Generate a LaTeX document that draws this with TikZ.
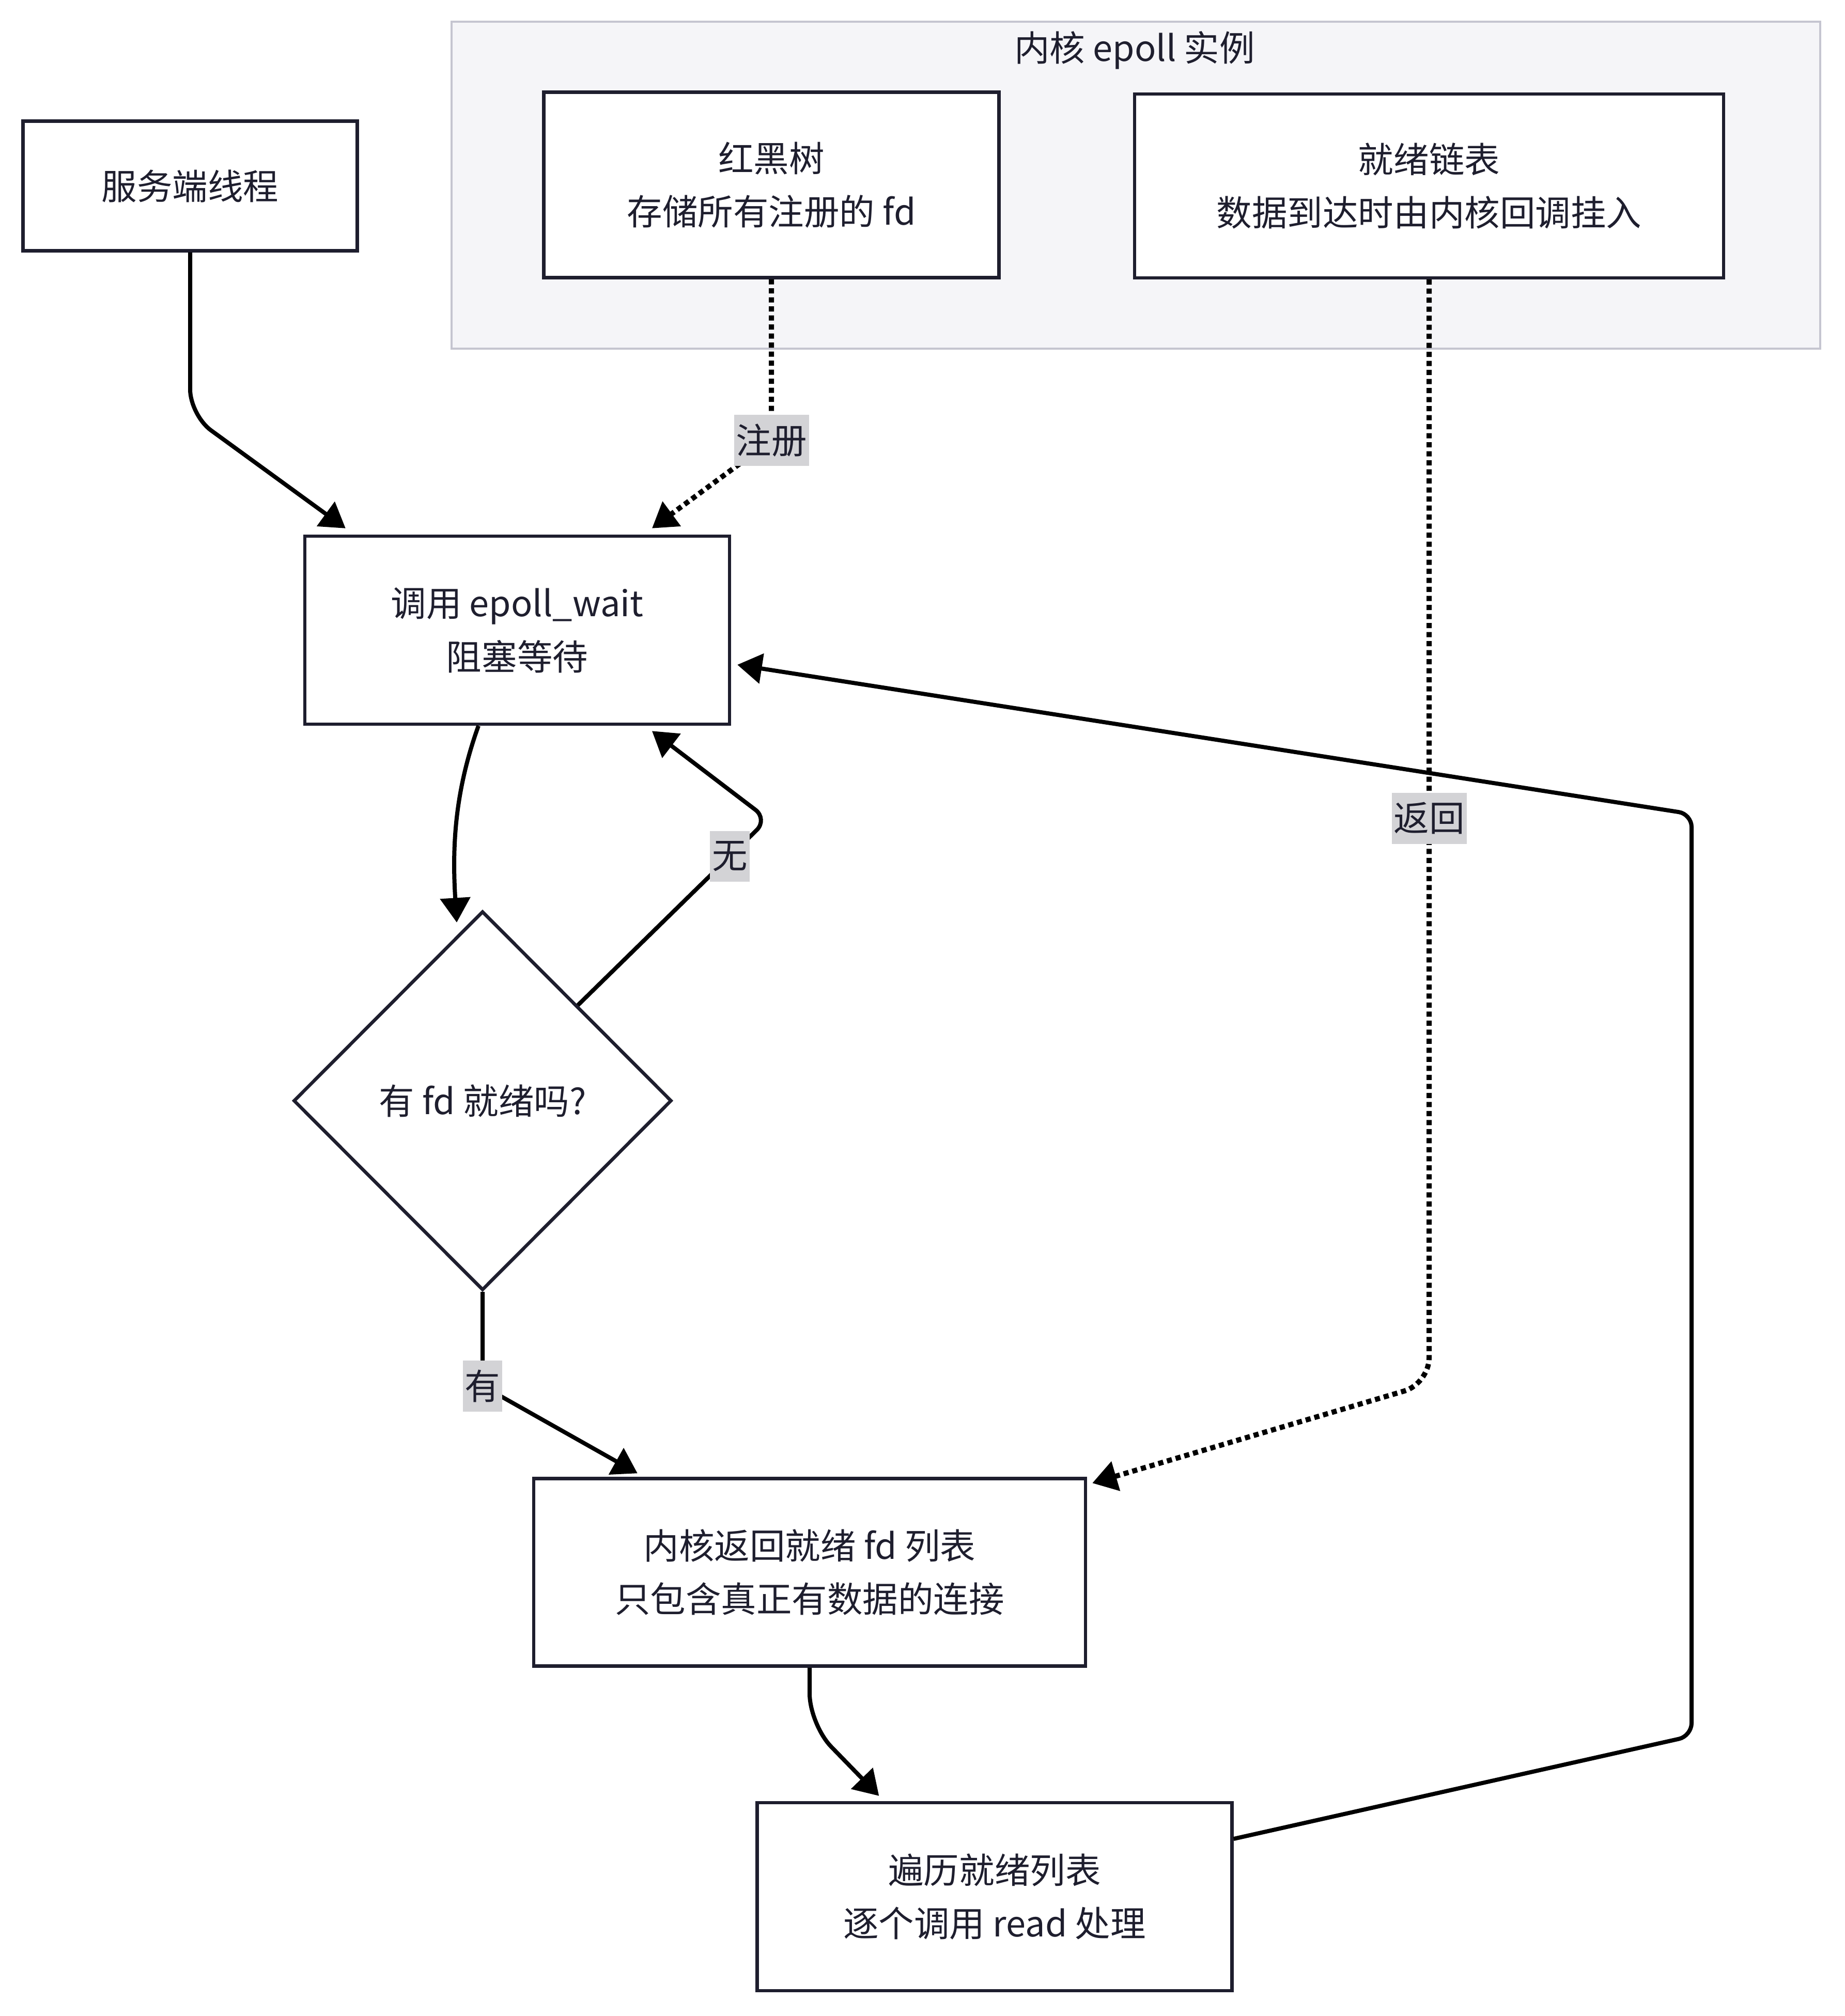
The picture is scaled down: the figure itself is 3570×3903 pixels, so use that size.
\documentclass[tikz,border=0pt]{standalone}
\usepackage{fontspec}
\setmainfont{Noto Sans CJK SC}
\usetikzlibrary{arrows.meta,shapes.geometric,calc}
\definecolor{ink}{HTML}{1E1E2E}
\definecolor{lblfill}{HTML}{D3D3D6}
\definecolor{clfill}{HTML}{F5F5F8}
\definecolor{clline}{HTML}{C5C5D0}
\begin{document}
\begin{tikzpicture}[x=0.02cm,y=-0.02cm,
  font=\fontsize{39}{59}\selectfont,
  box/.style={draw=ink, line width=0.13cm, fill=white, text=ink, align=center, inner sep=0pt},
  cluster/.style={draw=clline, fill=clfill, line width=0.08cm, inner sep=0pt},
  edge/.style={draw=black, line width=0.16cm, -{Triangle[length=0.95cm,width=1.15cm]}},
  dotedge/.style={edge, line width=0.2cm, dash pattern=on 0.2cm off 0.15cm},
  lbl/.style={fill=lblfill, text=ink, inner xsep=0.08cm, inner ysep=0pt, minimum height=1.98cm}
]
\fill[white] (0,0) rectangle (3570,3903);
\useasboundingbox (0,0) rectangle (3570,3903);

% cluster
\node[cluster, minimum width=52.98cm, minimum height=12.66cm] (cl) at (2198.5,358.5) {};
\node[text=ink] (cltitle) at (2196,97) {内核 epoll 实例};

% nodes
\node[box, minimum width=12.94cm, minimum height=5.02cm] (srv) at (368,360) {服务端线程};
\node[box, minimum width=17.62cm, minimum height=7.18cm] (rbt) at (1493,358) {红黑树\\存储所有注册的 fd};
\node[box, minimum width=22.8cm, minimum height=7.12cm] (rdy) at (2766,360) {就绪链表\\数据到达时由内核回调挂入};
\node[box, minimum width=16.44cm, minimum height=7.28cm] (wait) at (1001,1220) {调用 epoll\_wait\\阻塞等待};
\node[box, diamond, aspect=1, minimum width=14.64cm, minimum height=14.68cm] (dia) at (934,2131) {有 fd 就绪吗?};
\node[box, minimum width=21.36cm, minimum height=7.26cm] (ker) at (1567,3044) {内核返回就绪 fd 列表\\只包含真正有数据的连接};
\node[box, minimum width=18.38cm, minimum height=7.28cm] (trv) at (1925,3672) {遍历就绪列表\\逐个调用 read 处理};

% corners
\coordinate (c2) at ([yshift=-6.24cm]rbt.south);
\coordinate (c3) at ([yshift=-42.76cm]rdy.south);
\coordinate (c5) at (1486,1586);
\coordinate (c6) at ([yshift=-3.64cm]dia.south);
\coordinate (c8a) at (3274,3361);
\coordinate (c8b) at (3274,1576);

% edges
\draw[edge, rounded corners=1cm] (srv.south) -- ++(0,315) -- ([xshift=1.64cm,yshift=0.24cm]wait.north west);
\draw[dotedge, rounded corners=0.4cm] (rbt.south) -- (c2) -- ([xshift=5.22cm,yshift=0.24cm]wait.north);
\draw[dotedge, rounded corners=1cm] (rdy.south) -- (c3) -- ([xshift=0.2cm,yshift=-0.24cm]ker.north east);
\draw[edge] ([xshift=-1.5cm]wait.south) .. controls +(-0.92cm,-2.56cm) and +(-0.18cm,2.94cm) .. ([xshift=-1cm,yshift=-0.5cm]dia.north);
\draw[edge, rounded corners=0.6cm] (dia.north east) -- (c5) -- ([xshift=5.22cm,yshift=-0.2cm]wait.south);
\draw[edge, rounded corners=0.4cm] (dia.south) -- (c6) -- ([xshift=4.08cm,yshift=0.14cm]ker.north west);
\draw[edge, rounded corners=1.2cm] (ker.south) -- ++(0,110) -- ([xshift=4.78cm,yshift=0.2cm]trv.north west);
\draw[edge, rounded corners=0.5cm] ([yshift=2.24cm]trv.east) -- (c8a) -- (c8b) -- ([xshift=0.24cm,yshift=-1.34cm]wait.east);

% labels
\node[lbl] (l2) at (c2) {注册};
\node[lbl] (l3) at ([yshift=-20.86cm]rdy.south) {返回};
\node[lbl] (l5) at ($(dia.north east)!0.8!(c5)$) {无};
\node[lbl] (l6) at (c6) {有};
\end{tikzpicture}
\end{document}
